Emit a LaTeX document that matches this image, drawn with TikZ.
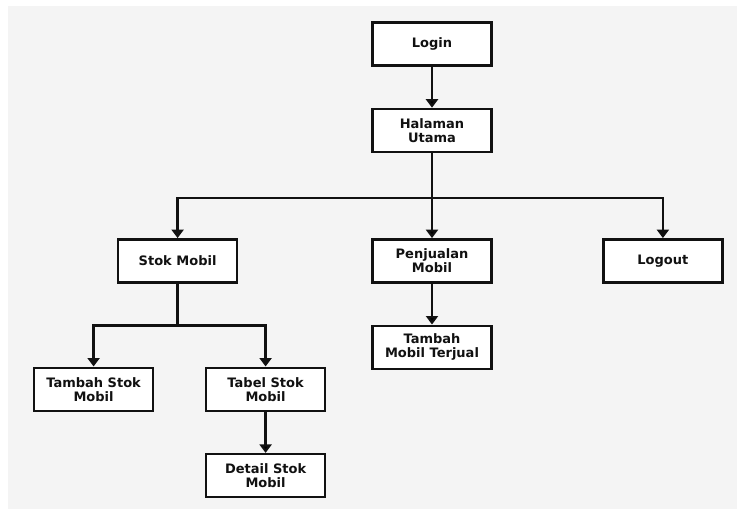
\documentclass[tikz,border=0pt]{standalone}
\usepackage{fontspec}
\usepackage{tikz}
\usetikzlibrary{arrows.meta,positioning}
\newfontfamily\boxfont{DejaVu Sans}
\definecolor{bggray}{HTML}{F4F4F4}
\definecolor{inkblack}{HTML}{111111}

\begin{document}
\begin{tikzpicture}[>={Triangle[width=12pt,length=8.5pt]},
    box/.style={draw=inkblack,line width=2.4pt,fill=white,minimum width=119pt,minimum height=43pt,
      align=center,inner sep=2pt,text=inkblack,font=\boxfont\fontsize{13pt}{14pt}\selectfont\bfseries},
    link/.style={draw=inkblack,line width=2.4pt}]
    \useasboundingbox (0,0) rectangle (737pt,-509pt);
    \fill[white] (0,0) rectangle (737pt,-509pt);
    \fill[bggray] (8pt,-6pt) rectangle (737pt,-509pt);
    % top of the tree
    \node[box] (login) at (432pt,-44pt) {Login} ;
    \node[box] (utama) [below=41pt of login] {Halaman\\Utama} ;
    \node[box] (jual) [below=85pt of utama] {Penjualan\\Mobil} ;
    \node[box] (stok) [left=133pt of jual] {Stok Mobil} ;
    \node[box] (logout) [right=109.5pt of jual] {Logout} ;
    % second level
    \node[box] (terjual) [below=41pt of jual] {Tambah\\Mobil Terjual} ;
    \node[box] (tambahstok) [below=83pt of stok,xshift=-84pt] {Tambah Stok\\Mobil} ;
    \node[box] (tabelstok) [below=83pt of stok,xshift=88pt] {Tabel Stok\\Mobil} ;
    \node[box] (detailstok) [below=41pt of tabelstok] {Detail Stok\\Mobil} ;
    \coordinate[below=45pt of utama] (split) ;
    \coordinate[below=42pt of stok] (splitstok) ;
    \path[link,->]
    (login) edge (utama)
    (utama) edge (jual)
    (jual) edge (terjual)
    (tabelstok) edge (detailstok);
    \draw[link,->] (split) -| (stok);
    \draw[link,->] (split) -| (logout);
    \draw[link] (stok) -- (splitstok);
    \draw[link,->] (splitstok) -| (tambahstok);
    \draw[link,->] (splitstok) -| (tabelstok);
\end{tikzpicture}
\end{document}
